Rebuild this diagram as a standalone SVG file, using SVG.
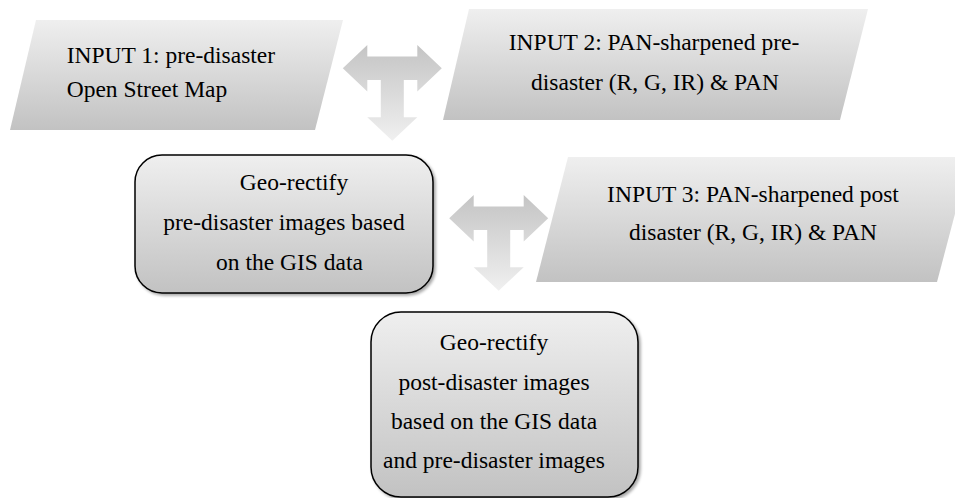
<svg xmlns="http://www.w3.org/2000/svg" width="955" height="498" viewBox="0 0 955 498">
<defs>
<linearGradient id="boxGrad" x1="0" y1="0" x2="0" y2="1">
<stop offset="0" stop-color="#efefef"/>
<stop offset="1" stop-color="#c2c2c2"/>
</linearGradient>
<linearGradient id="arrowGrad" x1="0" y1="0" x2="0" y2="1">
<stop offset="0" stop-color="#c4c4c4"/>
<stop offset="1" stop-color="#f0f0f0"/>
</linearGradient>
<filter id="shadow" x="-10%" y="-10%" width="130%" height="130%">
<feGaussianBlur in="SourceAlpha" stdDeviation="1.5"/>
<feOffset dx="2" dy="2" result="b"/>
<feComponentTransfer><feFuncA type="linear" slope="0.35"/></feComponentTransfer>
<feMerge><feMergeNode/><feMergeNode in="SourceGraphic"/></feMerge>
</filter>
<path id="tArrow" d="M -49.5,23.3 L -25,0 L -25,11.6 L 25,11.6 L 25,0 L 49.5,23.3 L 25,46.6 L 25,35 L 11.5,35 L 11.5,72.3 L 25,72.3 L 0,95.7 L -25,72.3 L -11.5,72.3 L -11.5,35 L -25,35 L -25,46.6 Z"/>
</defs>
<style>
.para { fill: url(#boxGrad); stroke: none; }
.rbox { fill: url(#boxGrad); stroke: #000; stroke-width: 1.5; filter: url(#shadow); }
.arrow { fill: url(#arrowGrad); stroke: none; }
.t { font-family: 'Liberation Serif', 'DejaVu Serif', serif; font-size: 23.5px; fill: #000; }
.c { text-anchor: middle; }
</style>
<rect width="955" height="498" fill="#ffffff"/>

<g id="connectors">
<use href="#tArrow" class="arrow" transform="translate(392.3,45)"/>
<use href="#tArrow" class="arrow" transform="translate(498.7,195)"/>
</g>

<g id="input1" class="t" font-family="Liberation Serif, serif">
<polygon class="para" points="36,20 343,20 315,130 10,130"/>
<text x="66.7" y="62.7">INPUT 1: pre-disaster</text>
<text x="66.7" y="96.7">Open Street Map</text>
</g>

<g id="input2" class="t" font-family="Liberation Serif, serif">
<polygon class="para" points="469,9 868,9 840,120 443,120"/>
<text class="c" x="654" y="50">INPUT 2: PAN-sharpened pre-</text>
<text class="c" x="655" y="90">disaster (R, G, IR) &amp; PAN</text>
</g>

<g id="input3" class="t" font-family="Liberation Serif, serif">
<polygon class="para" points="568,157 970,157 937,282 536,282"/>
<text class="c" x="753" y="201.7">INPUT 3: PAN-sharpened post</text>
<text class="c" x="753" y="240">disaster (R, G, IR) &amp; PAN</text>
</g>

<g id="georectify-pre" class="t" font-family="Liberation Serif, serif">
<rect class="rbox" x="135" y="155" width="298" height="138" rx="27" ry="27"/>
<text class="c" x="294" y="190">Geo-rectify</text>
<text class="c" x="284" y="230">pre-disaster images based</text>
<text class="c" x="289.5" y="270">on the GIS data</text>
</g>

<g id="georectify-post" class="t" font-family="Liberation Serif, serif">
<rect class="rbox" x="371" y="312" width="267" height="185" rx="30" ry="30"/>
<text class="c" x="494" y="350">Geo-rectify</text>
<text class="c" x="494" y="390">post-disaster images</text>
<text class="c" x="494" y="429.3">based on the GIS data</text>
<text class="c" x="494" y="468.3">and pre-disaster images</text>
</g>
</svg>
